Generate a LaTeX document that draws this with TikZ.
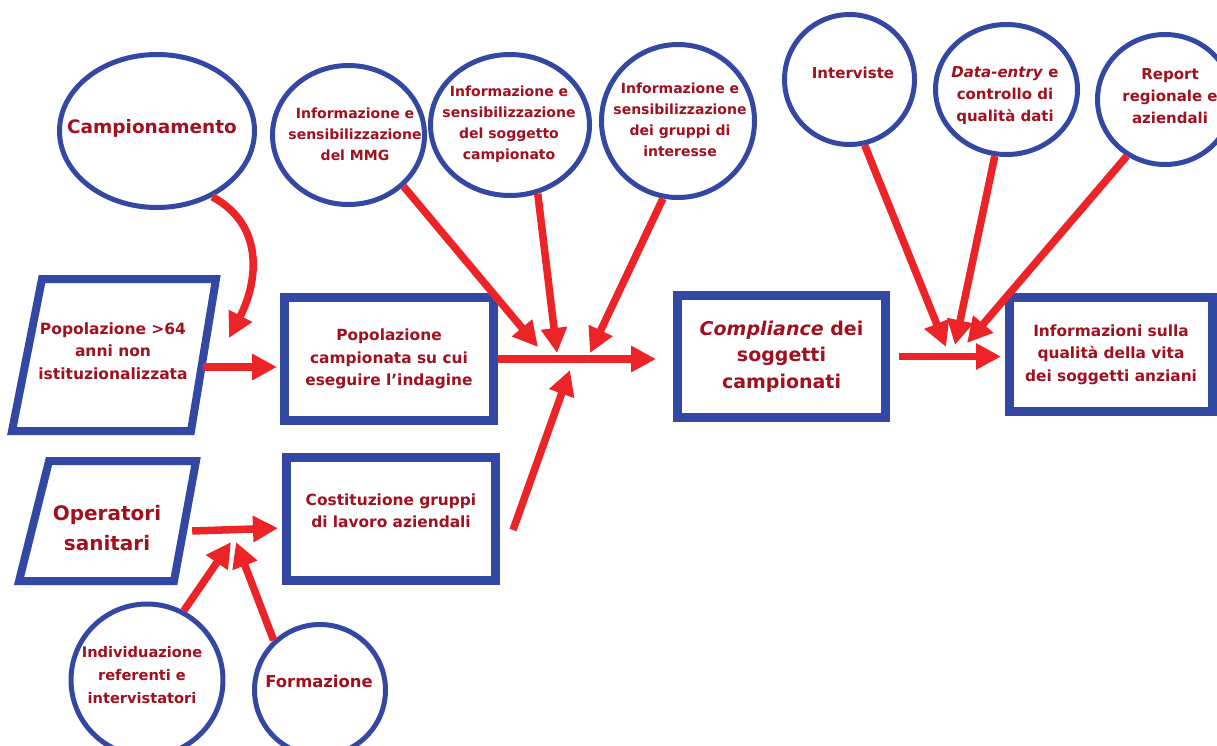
\documentclass[tikz,border=0pt]{standalone}
\usepackage{fontspec}
\setmainfont{DejaVu Sans}
\usepackage{xcolor}
\usetikzlibrary{arrows.meta, positioning, shapes.geometric}

\definecolor{ringblue}{RGB}{50,72,162}
\definecolor{inkred}{RGB}{160,16,30}
\definecolor{flowred}{RGB}{236,36,40}

\begin{document}
\begin{tikzpicture}[
        x=1pt, y=-1pt,
        bubble/.style={ellipse, draw=ringblue, line width=5pt, inner sep=0pt},
        frame/.style={rectangle, draw=ringblue, line width=9pt, align=center, text=inkred, minimum width=209pt, minimum height=123pt, font=\bfseries\fontsize{15.4}{22.5}\selectfont},
        slant/.style={draw=ringblue, line width=8pt},
        note/.style={align=center, text=inkred, inner sep=0pt, font=\bfseries\fontsize{14}{21}\selectfont},
        flow/.style={-{Triangle[length=25pt, width=25pt]}, line width=7.5pt, draw=flowred}
    ]
        \useasboundingbox (0,0) rectangle (1217,745);

        % top row of bubbles
        \node[bubble, minimum width=195pt, minimum height=153pt] (camp) at (157,131) {};
        \node[note, font=\bfseries\fontsize{18.5}{24}\selectfont] (camptxt) at (152,128) {Campionamento};
        \node[bubble, minimum width=152pt, minimum height=139pt] (mmg) at (348.5,135) {};
        \node[note] (mmgtxt) at (355,134) {Informazione e\\sensibilizzazione\\del MMG};
        \node[bubble, minimum width=159pt, minimum height=141pt] (sogg) at (510,125) {};
        \node[note] (soggtxt) at (509,124) {Informazione e\\sensibilizzazione\\del soggetto\\campionato};
        \node[bubble, minimum width=153pt, minimum height=153pt] (grp) at (678,121) {};
        \node[note] (grptxt) at (680,120) {Informazione e\\sensibilizzazione\\dei gruppi di\\interesse};
        \node[bubble, minimum width=130pt, minimum height=130pt] (intv) at (849.5,79.5) {};
        \node[note, font=\bfseries\fontsize{15}{22}\selectfont] (intvtxt) at (853,73) {Interviste};
        \node[bubble, minimum width=142pt, minimum height=130pt] (dent) at (1006.5,89.5) {};
        \node[note, font=\bfseries\fontsize{15}{22}\selectfont] (denttxt) at (1005,96) {\textit{Data-entry} e\\controllo di\\qualità dati};
        \node[bubble, minimum width=135pt, minimum height=130pt] (rep) at (1165,99.5) {};
        \node[note, font=\bfseries\fontsize{15}{22}\selectfont] (reptxt) at (1170,96) {Report\\regionale e\\aziendali};

        % inputs on the left (slanted frames)
        \draw[slant] (42,279) -- (216,279) -- (191,431) -- (12,431) -- cycle;
        \node[note, minimum width=180pt, font=\bfseries\fontsize{15.5}{22.5}\selectfont] (pop) at (113,351) {Popolazione >64\\anni non\\istituzionalizzata};
        \draw[slant] (49,461) -- (196,461) -- (174,581) -- (19,581) -- cycle;
        \node[note, minimum width=170pt, font=\bfseries\fontsize{20}{30}\selectfont] (oper) at (107,528) {Operatori\\sanitari};

        % boxes
        \node[frame] (popc) at (389,359) {Popolazione\\campionata su cui\\eseguire l’indagine};
        \node[frame] (cost) at (391,519) {Costituzione gruppi\\di lavoro aziendali\\[-6pt]\mbox{}};
        \node[frame, minimum width=208pt, minimum height=122pt, font=\bfseries\fontsize{19}{26.5}\selectfont] (compl) at (781.5,356.5) {\textit{Compliance} dei\\soggetti\\campionati};
        \node[frame, minimum width=203pt, minimum height=114pt] (info) at (1111,354.5) {Informazioni sulla\\qualità della vita\\dei soggetti anziani};

        % bottom bubbles
        \node[bubble, minimum size=152pt] (indiv) at (147,680) {};
        \node[note, font=\bfseries\fontsize{14.6}{23}\selectfont] (indivtxt) at (142,675) {Individuazione\\referenti e\\intervistatori};
        \node[bubble, minimum size=131pt] (form) at (320,690) {};
        \node[note, font=\bfseries\fontsize{16.4}{22}\selectfont] (formtxt) at (319,681) {Formazione};

        % meeting points of the arrows
        \coordinate (campend) at (229,338);
        \coordinate (meet) at (565,358);
        \coordinate (meet2) at (955,358);
        \coordinate (meet3) at (233,542);

        \draw[flow] (camp.-50) .. controls (265,225) and (258,282) .. (campend);
        \draw[flow, shorten >=3pt] ([yshift=-16pt]pop.east) -- ([shift={(0,8)}]popc.west);
        \draw[flow, shorten >=4pt] ([yshift=-3pt]oper.east) -- ([shift={(0,9)}]cost.west);
        \draw[flow] (indiv.62) -- ([xshift=-2pt]meet3);
        \draw[flow] (form.133) -- ([xshift=3pt]meet3);

        \draw[flow, shorten >=17pt] (popc.east) -- (popc.east -| compl.west);
        \draw[flow] (mmg.-43) -- ([shift={(-27,-11)}]meet);
        \draw[flow] (sogg.-68) -- ([shift={(-8,-5)}]meet);
        \draw[flow] (grp.-101) -- ([shift={(25,-5)}]meet);
        \draw[flow] ([shift={(13,11)}]cost.east) -- ([shift={(5,12)}]meet);

        \draw[flow, shorten <=9pt, shorten >=4pt] (compl.east) -- (compl.east -| info.west);
        \draw[flow] (intv.-77) -- ([shift={(-9,-11)}]meet2);
        \draw[flow] (dent.-100) -- ([shift={(0,-13)}]meet2);
        \draw[flow] (rep.-124) -- ([shift={(12,-15)}]meet2);
    \end{tikzpicture}
\end{document}
